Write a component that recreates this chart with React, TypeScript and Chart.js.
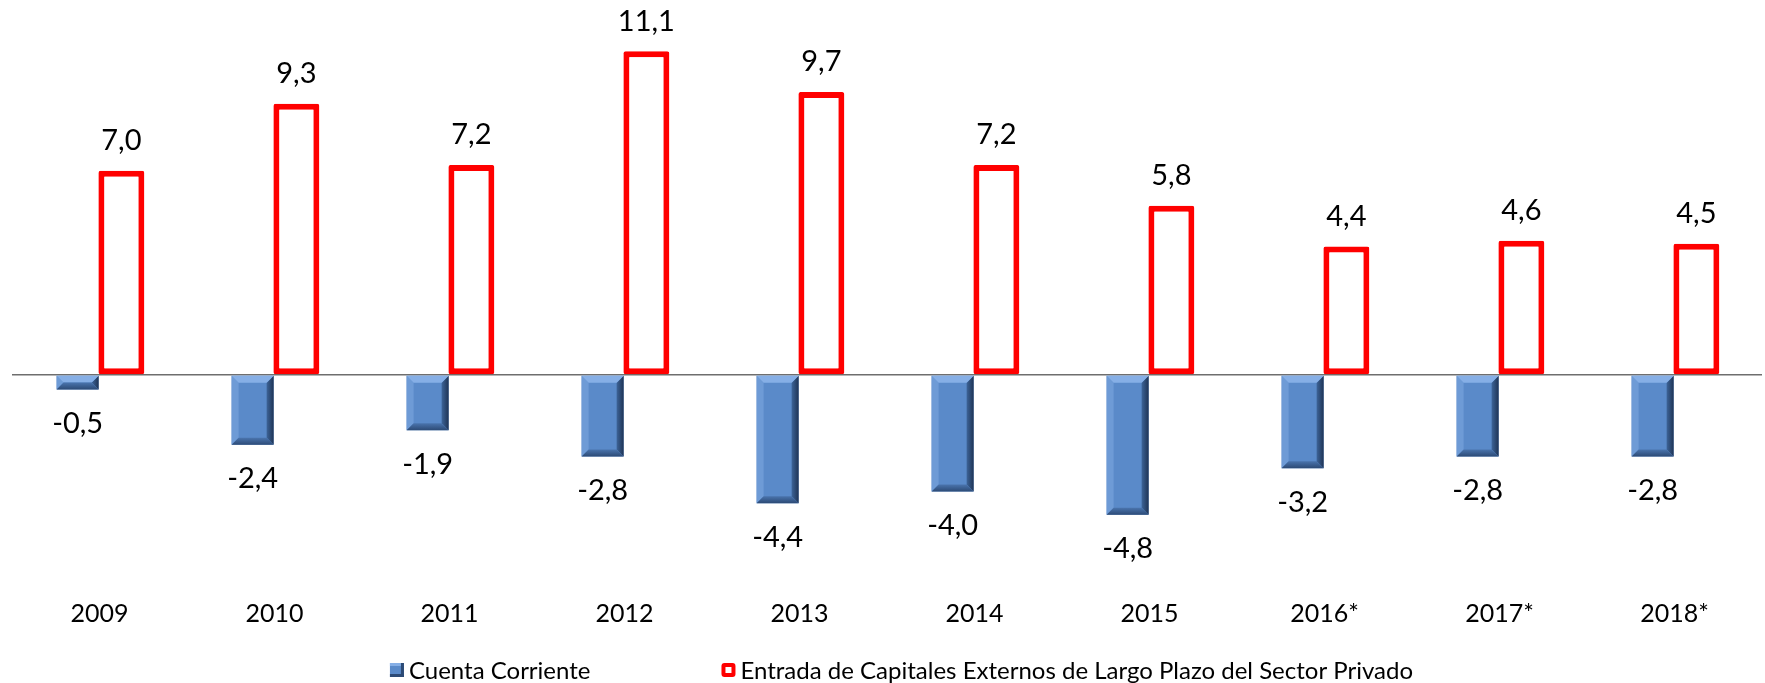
import React, { useEffect, useRef } from "react";
import { Chart, registerables } from "chart.js";

Chart.register(...registerables);

const categories = ["2009", "2010", "2011", "2012", "2013", "2014", "2015", "2016*", "2017*", "2018*"];
const cuentaCorriente = [-0.5, -2.4, -1.9, -2.8, -4.4, -4.0, -4.8, -3.2, -2.8, -2.8];
const entradaCapitales = [7.0, 9.3, 7.2, 11.1, 9.7, 7.2, 5.8, 4.4, 4.6, 4.5];
const seriesLabels = [
  "Cuenta Corriente",
  "Entrada de Capitales Externos de Largo Plazo del Sector Privado",
];

const FONT = "Lato, 'Open Sans', sans-serif";

const fmt = (v: number) => v.toFixed(1).replace(".", ",");

const bevelPlugin = {
  id: "bevel",
  afterDatasetDraw(chart: any, args: any) {
    if (args.index !== 0) return;
    const ctx = chart.ctx;
    const meta = chart.getDatasetMeta(0);
    meta.data.forEach((bar: any) => {
      const { x, y, base, width } = bar.getProps(["x", "y", "base", "width"], true);
      const l = x - width / 2;
      const r = x + width / 2;
      const t = Math.min(y, base);
      const b = Math.max(y, base);
      const h = b - t;
      const bv = Math.min(7, h / 2);
      ctx.save();
      ctx.fillStyle = "#6E9BD6";
      ctx.beginPath();
      ctx.moveTo(l, t); ctx.lineTo(l + bv, t + bv); ctx.lineTo(l + bv, b - bv); ctx.lineTo(l, b); ctx.closePath(); ctx.fill();
      const gr = ctx.createLinearGradient(r - bv, 0, r, 0);
      gr.addColorStop(0, "#3D6498");
      gr.addColorStop(1, "#1F3455");
      ctx.fillStyle = gr;
      ctx.beginPath();
      ctx.moveTo(r, t); ctx.lineTo(r - bv, t + bv); ctx.lineTo(r - bv, b - bv); ctx.lineTo(r, b); ctx.closePath(); ctx.fill();
      ctx.fillStyle = "#86AFE6";
      ctx.beginPath();
      ctx.moveTo(l, t); ctx.lineTo(r, t); ctx.lineTo(r - bv, t + bv); ctx.lineTo(l + bv, t + bv); ctx.closePath(); ctx.fill();
      const gb = ctx.createLinearGradient(0, b - bv, 0, b);
      gb.addColorStop(0, "#4A74AD");
      gb.addColorStop(1, "#2C4A75");
      ctx.fillStyle = gb;
      ctx.beginPath();
      ctx.moveTo(l, b); ctx.lineTo(r, b); ctx.lineTo(r - bv, b - bv); ctx.lineTo(l + bv, b - bv); ctx.closePath(); ctx.fill();
      ctx.restore();
    });
  },
};

const labelsPlugin = {
  id: "valueLabels",
  afterDatasetsDraw(chart: any) {
    const ctx = chart.ctx;
    ctx.save();
    ctx.font = `29px ${FONT}`;
    ctx.fillStyle = "#000";
    ctx.textAlign = "center";
    ctx.textBaseline = "middle";
    chart.data.datasets.forEach((ds: any, di: number) => {
      const meta = chart.getDatasetMeta(di);
      meta.data.forEach((bar: any, i: number) => {
        const v = ds.data[i];
        const { x, y } = bar.getProps(["x", "y"], true);
        const yy = v >= 0 ? y - 30 : y + 34;
        ctx.fillText(fmt(v), x, yy);
      });
    });
    ctx.restore();
  },
};

const legendPlugin = {
  id: "customLegend",
  afterDraw(chart: any) {
    const ctx = chart.ctx;
    ctx.save();
    ctx.font = `24px ${FONT}`;
    ctx.textBaseline = "middle";
    ctx.fillStyle = "#000";
    const box = 14;
    const textGap = 5;
    const itemGap = 131;
    const texts = chart.data.datasets.map((d: any) => d.label as string);
    const widths = texts.map((t: string) => box + textGap + ctx.measureText(t).width);
    const total = widths.reduce((a: number, b: number) => a + b, 0) + itemGap * (texts.length - 1);
    let x = chart.width / 2 + 19 - total / 2;
    const yc = 670;
    texts.forEach((t: string, i: number) => {
      const top = yc - box / 2;
      if (i === 0) {
        ctx.fillStyle = "#5A8AC9";
        ctx.fillRect(x, top, box, box);
        ctx.fillStyle = "#86AFE6";
        ctx.fillRect(x, top, box, 3);
        ctx.fillStyle = "#2C4A75";
        ctx.fillRect(x + box - 3, top, 3, box);
        ctx.fillRect(x, top + box - 3, box, 3);
      } else {
        ctx.fillStyle = "#FF0000";
        ctx.beginPath();
        (ctx as any).roundRect(x, top, box, box, 3);
        ctx.fill();
        ctx.fillStyle = "#FFFFFF";
        ctx.fillRect(x + 4, top + 4, box - 8, box - 8);
      }
      ctx.fillStyle = "#000";
      ctx.fillText(t, x + box + textGap, yc + 1);
      x += widths[i] + itemGap;
    });
    ctx.restore();
  },
};

export default function App() {
  const ref = useRef<HTMLCanvasElement | null>(null);
  useEffect(() => {
    if (!ref.current) return;
    const chart = new Chart(ref.current, {
      type: "bar",
      data: {
        labels: categories,
        datasets: [
          {
            label: seriesLabels[0],
            data: cuentaCorriente,
            backgroundColor: "#5A8AC9",
            borderWidth: 0,
            barPercentage: 0.96,
            categoryPercentage: 0.5,
          },
          {
            label: seriesLabels[1],
            data: entradaCapitales,
            backgroundColor: "#FFFFFF",
            borderColor: "#FF0000",
            borderWidth: 6,
            borderSkipped: false,
            borderRadius: 2,
            barPercentage: 1.05,
            categoryPercentage: 0.5,
          },
        ],
      },
      options: {
        animation: false,
        responsive: true,
        maintainAspectRatio: false,
        layout: { padding: { top: 25, bottom: 34, left: 12, right: 3 } },
        plugins: {
          legend: { display: false },
          tooltip: { enabled: false },
        },
        scales: {
          x: {
            grid: { display: false, drawTicks: false },
            border: { display: false },
            ticks: { font: { family: FONT, size: 25 }, color: "#000", padding: 20 },
          },
          y: {
            min: -7,
            max: 12,
            ticks: { display: false, stepSize: 1 },
            border: { display: false },
            grid: {
              drawTicks: false,
              lineWidth: 1.5,
              color: (c: any) => (c.tick && c.tick.value === 0 ? "#6E6E6E" : "rgba(0,0,0,0)"),
            },
          },
        },
      },
      plugins: [bevelPlugin, labelsPlugin, legendPlugin],
    });
    return () => chart.destroy();
  }, []);
  return (
    <div style={{ position: "fixed", left: 0, top: 0, width: 1765, height: 683, background: "#fff" }}>
      <canvas ref={ref} />
    </div>
  );
}
